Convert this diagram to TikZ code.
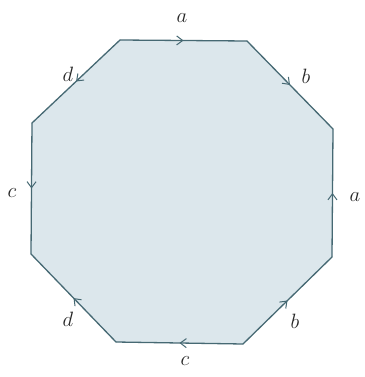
\documentclass[tikz,border=0pt]{standalone}
\usetikzlibrary{decorations.markings,arrows.meta}
\definecolor{fillc}{RGB}{220,231,236}
\definecolor{linec}{RGB}{70,105,115}
\begin{document}
\begin{tikzpicture}[x=1pt,y=-1pt,
  edge/.style={draw=linec, line width=1.3pt, line cap=round, postaction={decorate},
    decoration={markings, mark=at position 0.5 with {\arrow[linec,line width=1pt]{Straight Barb[length=6pt,width=9pt]}}}},
  lab/.style={font=\fontsize{22}{26}\selectfont, text=black!85, inner sep=0pt}]
\useasboundingbox (0,0) rectangle (364,377);
\coordinate (v1) at (120,40);
\coordinate (v2) at (247,41);
\coordinate (v3) at (333,129);
\coordinate (v4) at (332,257);
\coordinate (v5) at (243,344);
\coordinate (v6) at (116,342);
\coordinate (v7) at (31,254);
\coordinate (v8) at (32,123);
\fill[fillc] (v1) -- (v2) -- (v3) -- (v4) -- (v5) -- (v6) -- (v7) -- (v8) -- cycle;
\draw[edge] (v1) -- (v2);
\draw[edge] (v2) -- (v3);
\draw[edge] (v4) -- (v3);
\draw[edge] (v5) -- (v4);
\draw[edge] (v5) -- (v6);
\draw[edge] (v6) -- (v7);
\draw[edge] (v8) -- (v7);
\draw[edge] (v1) -- (v8);
\node[lab] (la1) at (182,18) {$a$};
\node[lab] (lb1) at (306,76) {$b$};
\node[lab] (la2) at (355,197) {$a$};
\node[lab] (lb2) at (295,321) {$b$};
\node[lab] (lc1) at (185,361) {$c$};
\node[lab] (ld1) at (68,319) {$d$};
\node[lab] (lc2) at (12,193) {$c$};
\node[lab] (ld2) at (68,74) {$d$};
\end{tikzpicture}
\end{document}
